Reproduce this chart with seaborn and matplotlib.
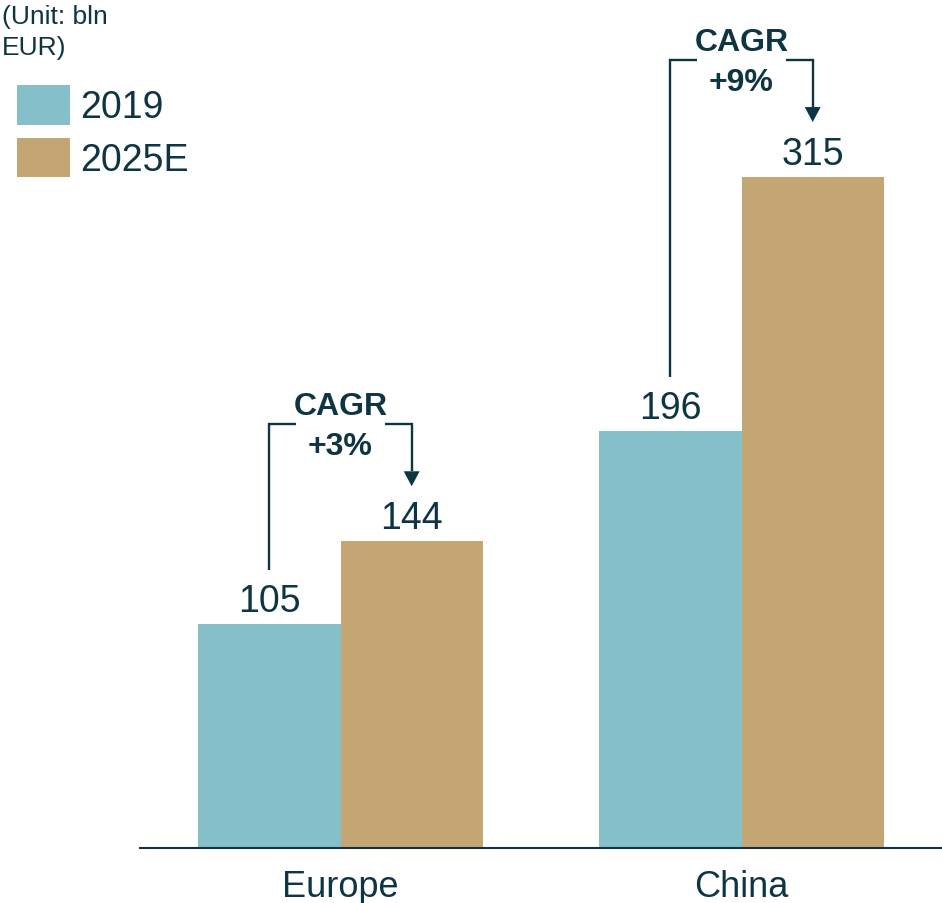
import matplotlib
matplotlib.use("Agg")
import matplotlib.pyplot as plt
from matplotlib.patches import Polygon
import seaborn as sns
import pandas as pd

# Market size by region (bln EUR)
regions = ["Europe", "China"]
years = ["2019", "2025E"]
values_2019 = [105, 196]
values_2025 = [144, 315]
cagr_labels = ["+3%", "+9%"]

colors = ["#85BFCA", "#C4A574"]
ink = "#0E3542"

df = pd.DataFrame({
    "region": regions * 2,
    "year": [years[0]] * len(regions) + [years[1]] * len(regions),
    "value": values_2019 + values_2025,
})

sns.set_theme(style="white")
plt.rcParams["font.family"] = ["Liberation Sans", "DejaVu Sans"]

W, H, DPI = 942, 904, 100
fig = plt.figure(figsize=(W / DPI, H / DPI), dpi=DPI)
ax_left, ax_bottom = 140 / W, (H - 849) / H
ax = fig.add_axes([ax_left, ax_bottom, 1 - ax_left, 1 - ax_bottom])

sns.barplot(data=df, x="region", y="value", hue="year", palette=colors,
            width=0.71, saturation=1, linewidth=0, ax=ax, legend=True)

ymax = 849 / 2.13
ax.set_xlim(-0.5, 1.5)
ax.set_ylim(0, ymax)

# pixel -> data conversion on the y axis
px = ymax / 849.0

for s in ["top", "left", "right"]:
    ax.spines[s].set_visible(False)
ax.spines["bottom"].set_color(ink)
ax.spines["bottom"].set_linewidth(1.5)
ax.set_yticks([])
ax.set_xlabel("")
ax.set_ylabel("")
ax.tick_params(axis="x", length=0, pad=15, labelsize=26, labelcolor=ink)

# value labels above each bar
for container in ax.containers:
    for bar in container:
        h = bar.get_height()
        ax.text(bar.get_x() + bar.get_width() / 2, h + 13 * px, f"{h:.0f}",
                ha="center", va="baseline", fontsize=27, color=ink)

# CAGR brackets from the 2019 bar to the 2025E bar
bar_w = ax.containers[0][0].get_width()
for i, (v0, v1, lab) in enumerate(zip(values_2019, values_2025, cagr_labels)):
    x0 = i - bar_w / 2
    x1 = i + bar_w / 2
    top = v1 + 117 * px
    tip = v1 + 55 * px
    head = 15 * px
    dx = 27 / 402.0
    lw = 1.7
    ax.plot([x0, x0, x0 + dx], [v0 + 54 * px, top, top],
            color=ink, lw=lw, solid_capstyle="butt", solid_joinstyle="miter")
    ax.plot([x1 - dx, x1, x1], [top, top, tip + head],
            color=ink, lw=lw, solid_capstyle="butt", solid_joinstyle="miter")
    hw = 8 / 402.0
    ax.add_patch(Polygon([[x1 - hw, tip + head], [x1 + hw, tip + head], [x1, tip]],
                         closed=True, color=ink, lw=0))
    ax.text(i, top + 18 * px, "CAGR", ha="center", va="center",
            fontsize=23, fontweight="bold", color=ink)
    ax.text(i, top - 22 * px, lab, ha="center", va="center",
            fontsize=23, fontweight="bold", color=ink)

# legend in the top-left corner
handles, labels = ax.get_legend_handles_labels()
ax.legend(handles, labels, loc="upper left",
          bbox_to_anchor=(17 / W, 1 - 86 / H), bbox_transform=fig.transFigure,
          frameon=False, fontsize=27, labelcolor=ink, borderpad=0,
          borderaxespad=0, handlelength=1.41, handleheight=1.25,
          handletextpad=0.27, labelspacing=0.33)

fig.text(2 / W, 1 - 5 / H, "(Unit: bln\nEUR)", ha="left", va="top",
         fontsize=19, color=ink, linespacing=1.35)

fig.savefig("out.png", dpi=DPI)
